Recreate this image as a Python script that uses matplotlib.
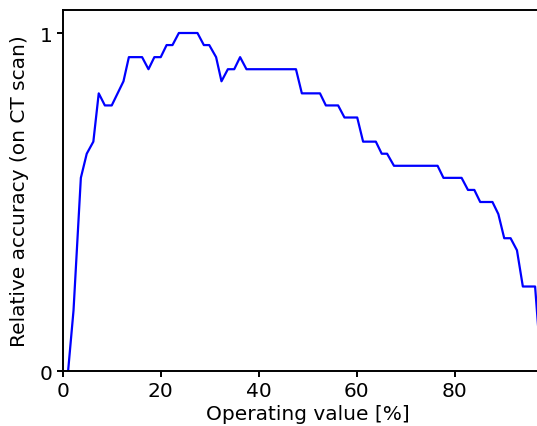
import numpy as np
import matplotlib.pyplot as plt

# operating value [%] at each vertex of the curve
op_value = [1.1, 2.2, 3.7, 4.9, 6.25, 7.35, 8.6, 10.0, 12.4, 13.5, 16.2, 17.5,
            18.7, 20.0, 21.2, 22.4, 23.7, 27.5, 28.8, 29.9, 31.3, 32.4, 33.7,
            35.0, 36.2, 37.5, 47.6, 48.8, 52.5, 53.7, 56.2, 57.5, 60.1, 61.3,
            63.9, 65.1, 66.2, 67.6, 76.5, 77.7, 81.4, 82.7, 84.0, 85.2, 87.7,
            88.9, 90.1, 91.4, 92.7, 93.9, 96.4, 97.7]
# relative accuracy in 1/28 steps
counts = [0, 5, 16, 18, 19, 23, 22, 22, 24, 26, 26, 25,
          26, 26, 27, 27, 28, 28, 27, 27, 26, 24, 25,
          25, 26, 25, 25, 23, 23, 22, 22, 21, 21, 19,
          19, 18, 18, 17, 17, 16, 16, 15, 15, 14, 14,
          13, 11, 11, 10, 7, 7, 0]
accuracy = np.array(counts) / 28.0

plt.rcParams['font.size'] = 14.5

fig = plt.figure(figsize=(5.37, 4.27), dpi=100)
ax = fig.add_axes([0.1168, 0.1288, 0.9125, 0.8454])

ax.plot(op_value, accuracy, color='#0000ff', linewidth=1.6)

ax.set_xlim((0, 100))
ax.set_ylim((0, 1.068))
ax.set_xticks([0, 20, 40, 60, 80])
ax.set_yticks([0, 1])
ax.set_xlabel('Operating value [%]', labelpad=3)
ax.set_ylabel('Relative accuracy (on CT scan)', labelpad=8)

for sp in ax.spines.values():
    sp.set_linewidth(1.4)
ax.tick_params(width=1.4, length=4, pad=3)

plt.savefig('out.png', dpi=100)
